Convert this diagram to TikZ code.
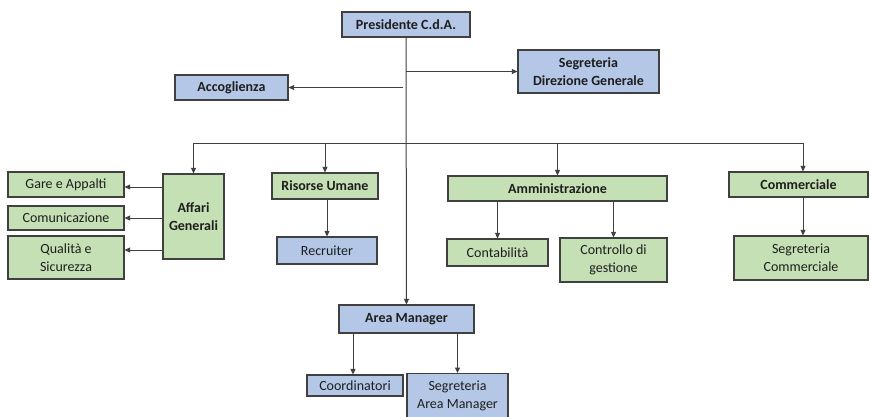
\documentclass[tikz,border=0pt]{standalone}
\usepackage{fontspec}
\setmainfont{Carlito}
\usetikzlibrary{arrows.meta}
\definecolor{bluefill}{HTML}{B4C7E7}
\definecolor{greenfill}{HTML}{C5E0B4}
\definecolor{edge}{HTML}{404040}
\definecolor{txt}{HTML}{1E1E1E}
\tikzset{
  box/.style={draw=edge, line width=1.2pt, inner sep=0pt, align=center, text=txt,
    font=\fontsize{14}{18}\selectfont},
  bbox/.style={box, fill=bluefill},
  gbox/.style={box, fill=greenfill},
  bold/.style={font=\fontsize{14}{18}\selectfont\bfseries},
  arr/.style={draw=edge, line width=1pt, -{Triangle[length=5.5pt,width=5pt]}},
  ln/.style={draw=edge, line width=1pt},
}
\begin{document}
\begin{tikzpicture}[x=1pt,y=-1pt]
\useasboundingbox (0,0) rectangle (870,416);
% nodes
\node[bbox,bold,minimum width=128,minimum height=25] (pres) at (406,24.5) {Presidente C.d.A.};
\node[bbox,bold,minimum width=141,minimum height=43] (segdg) at (588.5,71.5) {Segreteria\\Direzione Generale};
\node[bbox,bold,minimum width=113,minimum height=25] (acc) at (231.5,87.5) {Accoglienza};
\node[gbox,bold,minimum width=61,minimum height=85] (affari) at (193.5,216.5) {Affari\\Generali};
\node[gbox,minimum width=116,minimum height=25] (gare) at (66,184.5) {Gare e Appalti};
\node[gbox,minimum width=116,minimum height=24] (com) at (66,218) {Comunicazione};
\node[gbox,minimum width=116,minimum height=43] (qual) at (66,257.5) {Qualità e\\Sicurezza};
\node[gbox,bold,minimum width=106,minimum height=26] (ris) at (325,186) {Risorse Umane};
\node[bbox,minimum width=100,minimum height=27] (rec) at (327,250.5) {Recruiter};
\node[gbox,bold,minimum width=219,minimum height=25] (amm) at (557.5,188.5) {Amministrazione};
\node[gbox,minimum width=101,minimum height=27] (cont) at (497.5,252.5) {Contabilità};
\node[gbox,minimum width=107,minimum height=44] (ctrl) at (613.5,260) {Controllo di\\gestione};
\node[gbox,bold,minimum width=139,minimum height=25] (comm) at (798.5,184.5) {Commerciale};
\node[gbox,minimum width=134,minimum height=44] (segc) at (801,258) {Segreteria\\Commerciale};
\node[bbox,bold,minimum width=135,minimum height=28] (area) at (406.5,319) {Area Manager};
\node[bbox,minimum width=96,minimum height=21] (coord) at (355,385.5) {Coordinatori};
\node[bbox,minimum width=101,minimum height=45,anchor=north] (segam) at (457.5,373) {Segreteria\\Area Manager};
% bus
\coordinate (busL) at (193.5,143);
\coordinate (busR) at (803,143);
\coordinate (trunk) at (406,143);
% connectors
\draw[arr] (pres.south) -- (area.north);
\draw[arr] (pres.south |- segdg.west) -- (segdg.west);
\draw[arr,shorten <=3pt] (pres.south |- acc.east) -- (acc.east);
\draw[ln] (busL) -- (busR);
\draw[arr] (busL) -- (affari.north);
\draw[arr] (ris.north |- busL) -- (ris.north);
\draw[arr] (amm.north |- busL) -- (amm.north);
\draw[arr] (busR) -- (busR |- comm.north);
\draw[arr] (affari.west |- 0,187) -- (gare.east |- 0,187);
\draw[arr] (affari.west |- com.east) -- (com.east);
\draw[arr] (affari.west |- 0,250) -- (qual.east |- 0,250);
\draw[arr] (ris.south -| rec.north) -- (rec.north);
\draw[arr] (cont.north |- amm.south) -- (cont.north);
\draw[arr] (ctrl.north |- amm.south) -- (ctrl.north);
\draw[arr] (busR |- comm.south) -- (busR |- segc.north);
\draw[arr] (area.south -| 353,0) -- (coord.north -| 353,0);
\draw[arr] (segam.north |- area.south) -- (segam.north);
\end{tikzpicture}
\end{document}
